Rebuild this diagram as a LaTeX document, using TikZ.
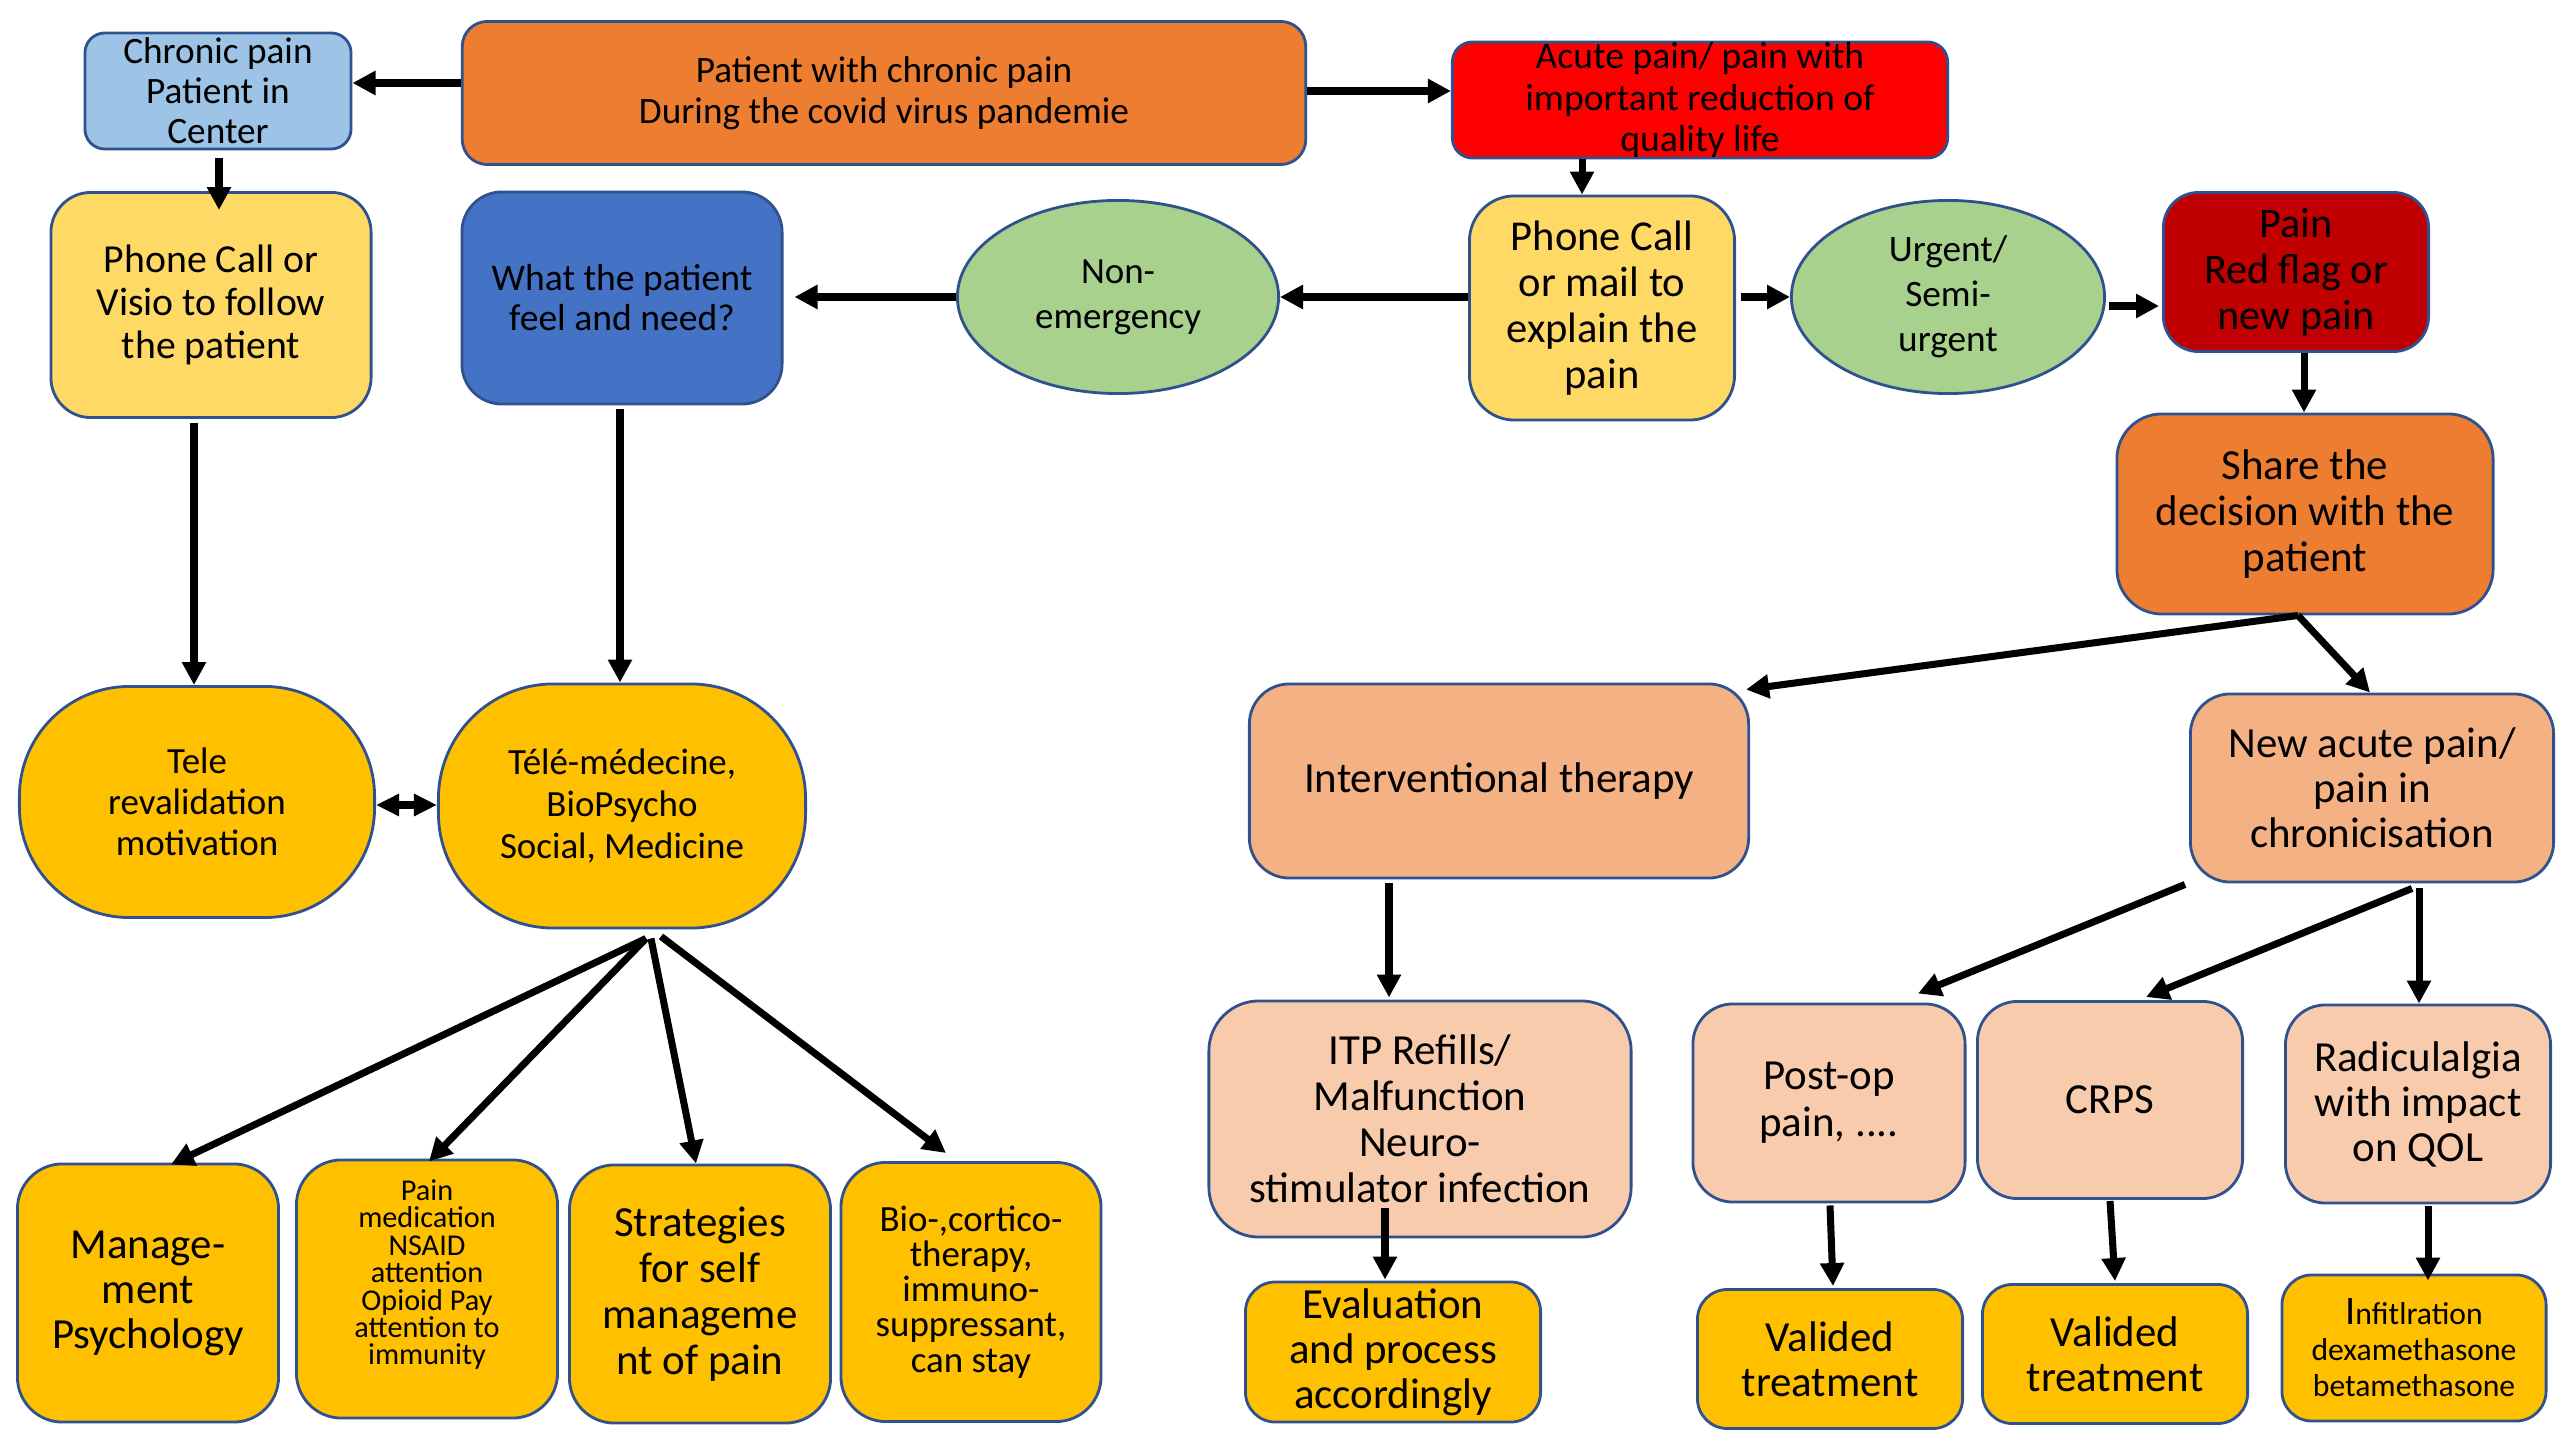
\documentclass[tikz,border=0pt]{standalone}
\usepackage{fontspec}
\setmainfont{Carlito}
\usetikzlibrary{arrows.meta,shapes.geometric,calc}
\definecolor{bordc}{HTML}{2F528F}
\definecolor{lblue}{HTML}{9DC3E6}
\definecolor{orng}{HTML}{ED7D31}
\definecolor{redA}{HTML}{FF0000}
\definecolor{yelL}{HTML}{FFD966}
\definecolor{grn}{HTML}{A9D18E}
\definecolor{dred}{HTML}{C00000}
\definecolor{blu}{HTML}{4472C4}
\definecolor{gold}{HTML}{FFC000}
\definecolor{lor}{HTML}{F4B183}
\definecolor{llor}{HTML}{F8CBAD}
\newcommand\fsz[2]{\fontsize{#1}{#2}\selectfont}
\begin{document}
\begin{tikzpicture}[x=0.01cm,y=-0.01cm,
  base/.style={draw=bordc,line width=0.8pt,align=center,inner sep=0pt,text=black},
  rbox/.style={base,rectangle},
  ell/.style={base,ellipse,fill=grn},
  arr/.style={line width=2pt,-{Triangle[length=0.23cm,width=0.23cm]}},
  darr/.style={line width=2pt,{Triangle[length=0.23cm,width=0.21cm]}-{Triangle[length=0.23cm,width=0.21cm]}}]
\useasboundingbox (0,0) rectangle (2560,1440);

% top row
\node[rbox,fill=lblue,rounded corners=0.2cm,inner ysep=-3pt,minimum width=2.66cm,minimum height=1.16cm,font={\fsz{10.6}{11.4}}] (chronic) at (218,91) {Chronic pain\\Patient in\\Center};
\node[rbox,fill=orng,rounded corners=0.25cm,minimum width=8.43cm,minimum height=1.43cm,font={\fsz{10.6}{11.6}}] (main) at (884,93) {Patient with chronic pain\\During the covid virus pandemie};
\node[rbox,fill=redA,rounded corners=0.2cm,inner ysep=-3pt,minimum width=4.95cm,minimum height=1.16cm,font={\fsz{10.7}{11.7}}] (acute) at (1700,100) {Acute pain/ pain with\\important reduction of\\quality life};

% second row
\node[rbox,fill=yelL,rounded corners=0.4cm,minimum width=3.2cm,minimum height=2.25cm,font={\fsz{11.3}{12.2}}] (visio) at (211,305) {Phone Call or\\Visio to follow\\the patient};
\node[rbox,fill=blu,rounded corners=0.4cm,minimum width=3.2cm,minimum height=2.12cm,font={\fsz{10.7}{11.4}}] (what) at (622,298) {What the patient\\feel and need?};
\node[ell,minimum width=3.21cm,minimum height=1.93cm,font={\fsz{10.5}{12.8}}] (nonem) at (1118,297) {Non-\\emergency};
\node[rbox,fill=yelL,rounded corners=0.45cm,minimum width=2.65cm,minimum height=2.24cm,font={\fsz{12.1}{13.1}}] (phone) at (1602,308) {Phone Call\\or mail to\\explain the\\pain};
\node[ell,minimum width=3.13cm,minimum height=1.93cm,font={\fsz{10.6}{12.8}}] (urgent) at (1948,297) {Urgent/\\Semi-\\urgent};
\node[rbox,fill=dred,rounded corners=0.35cm,minimum width=2.65cm,minimum height=1.59cm,font={\fsz{12}{13.1}}] (redflag) at (2296,272) {Pain\\Red flag or\\new pain};
\node[rbox,fill=orng,rounded corners=0.45cm,minimum width=3.76cm,minimum height=2.0cm,font={\fsz{12.2}{13.1}}] (share) at (2305,514) {Share the\\decision with the\\patient};

% middle row
\node[rbox,fill=gold,rounded corners=1.1cm,minimum width=3.55cm,minimum height=2.31cm,font={\fsz{10.5}{11.7}}] (tele) at (197,802) {Tele\\revalidation\\motivation};
\node[rbox,fill=gold,rounded corners=1.15cm,minimum width=3.67cm,minimum height=2.44cm,font={\fsz{10.5}{11.9}}] (telemed) at (622,806) {Télé-médecine,\\BioPsycho\\Social, Medicine};
\node[rbox,fill=lor,rounded corners=0.4cm,minimum width=4.99cm,minimum height=1.94cm,font={\fsz{12.2}{13.1}}] (interv) at (1499,781) {Interventional therapy};
\node[rbox,fill=lor,rounded corners=0.4cm,minimum width=3.63cm,minimum height=1.88cm,font={\fsz{12.2}{12.8}}] (newac) at (2372,788) {New acute pain/\\pain in\\chronicisation};

% lower left row
\node[rbox,fill=gold,rounded corners=0.45cm,minimum width=2.61cm,minimum height=2.58cm,font={\fsz{12.2}{12.8}}] (mgmt) at (148,1293) {Manage-\\ment\\Psychology};
\node[rbox,fill=gold,rounded corners=0.45cm,minimum width=2.61cm,minimum height=2.58cm,font={\fsz{8.6}{7.8}}] (painmed) at (427,1289) {Pain\\medication\\NSAID\\attention\\Opioid Pay\\attention to\\immunity\\[0.06cm]};
\node[rbox,fill=gold,rounded corners=0.45cm,minimum width=2.61cm,minimum height=2.58cm,font={\fsz{12.2}{13.1}}] (strat) at (700,1294) {Strategies\\for self\\manageme\\nt of pain};
\node[rbox,fill=gold,rounded corners=0.45cm,minimum width=2.6cm,minimum height=2.59cm,font={\fsz{10.5}{10}}] (bio) at (971,1292) {Bio-,cortico-\\therapy,\\immuno-\\suppressant,\\can stay};

% lower right rows
\node[rbox,fill=llor,rounded corners=0.5cm,minimum width=4.22cm,minimum height=2.36cm,font={\fsz{12.2}{13.1}}] (itp) at (1420,1119) {ITP Refills/\\Malfunction\\Neuro-\\stimulator infection};
\node[rbox,fill=llor,rounded corners=0.4cm,minimum width=2.72cm,minimum height=1.98cm,font={\fsz{12.2}{13.4}}] (postop) at (1829,1103) {Post-op\\pain, ....};
\node[rbox,fill=llor,rounded corners=0.4cm,minimum width=2.65cm,minimum height=1.97cm,font={\fsz{12.2}{13.1}}] (crps) at (2110,1100) {CRPS};
\node[rbox,fill=llor,rounded corners=0.4cm,minimum width=2.65cm,minimum height=1.98cm,font={\fsz{12.2}{12.8}}] (radic) at (2418,1104) {Radiculalgia\\with impact\\on QOL};

\node[rbox,fill=gold,rounded corners=0.3cm,minimum width=2.95cm,minimum height=1.40cm,font={\fsz{12.2}{12.8}}] (eval) at (1393,1352) {Evaluation\\and process\\accordingly};
\node[rbox,fill=gold,rounded corners=0.3cm,minimum width=2.65cm,minimum height=1.39cm,font={\fsz{12.2}{12.8}}] (val1) at (1830,1359) {Valided\\treatment};
\node[rbox,fill=gold,rounded corners=0.3cm,minimum width=2.65cm,minimum height=1.39cm,font={\fsz{12.2}{12.8}}] (val2) at (2115,1354) {Valided\\treatment};
\node[rbox,fill=gold,rounded corners=0.3cm,minimum width=2.64cm,minimum height=1.46cm,font={\fsz{9}{10.2}}] (infil) at (2414,1348) {{\fsz{11.5}{10.2}I}nfitlration\\dexamethasone\\betamethasone};

% connectors
\draw[arr] ($(main.west)+(0,-10)$) -- ($(chronic.east)+(0,-8)$);
\draw[arr] ($(main.east)+(0,-2)$) -- ($(acute.west)+(0,-9)$);
\draw[arr] ($(acute.south)+(-118,0)$) -- ($(phone.north)+(-20,0)$);
\draw[arr] ($(chronic.south)+(1,8)$) -- ($(visio.north)+(8,19)$);
\draw[arr] ($(phone.west)+(0,-11)$) -- (nonem.east);
\draw[arr] (nonem.west) -- ($(what.east)+(11,-1)$);
\draw[arr] ($(phone.east)+(5,-11)$) -- (urgent.west);
\draw[arr] ($(urgent.east)+(3,9)$) -- ($(redflag.west)+(-3,34)$);
\draw[arr] ($(redflag.south)+(8,0)$) -- ($(share.north)+(-1,0)$);
\draw[arr] ($(share.south)+(-7,0)$) -- ($(interv.north east)+(-4,7)$);
\draw[arr] ($(share.south)+(-7,0)$) -- ($(newac.north)+(-2,0)$);
\draw[arr] ($(visio.south)+(-17,4)$) -- ($(tele.north)+(-3,0)$);
\draw[arr] ($(what.south)+(-2,4)$) -- ($(telemed.north)+(-2,0)$);
\draw[darr] ($(tele.east)+(0,3)$) -- ($(telemed.west)+(0,-1)$);
\draw[arr] ($(telemed.south)+(24,9)$) -- ($(mgmt.north)+(23,2)$);
\draw[arr] ($(telemed.south)+(24,9)$) -- ($(painmed.north)+(2,3)$);
\draw[arr] ($(telemed.south)+(29,9)$) -- ($(strat.north)+(-4,0)$);
\draw[arr] ($(telemed.south)+(39,7)$) -- ($(bio.north)+(-25,-8)$);
\draw[arr] ($(interv.south)+(-110,4)$) -- ($(itp.north)+(-31,-2)$);
\draw[arr] ($(itp.south)+(-35,-30)$) -- ($(eval.north)+(-8,-1)$);
\draw[arr] ($(newac.south west)+(-4,1)$) -- ($(postop.north)+(89,-9)$);
\draw[arr] ($(newac.south)+(40,5)$) -- ($(crps.north)+(36,-3)$);
\draw[arr] ($(newac.south)+(47,5)$) -- ($(radic.north)+(1,0)$);
\draw[arr] ($(postop.south)+(1,2)$) -- ($(val1.north)+(3,-2)$);
\draw[arr] ($(crps.south)+(0,1)$) -- ($(val2.north)+(0,-2)$);
\draw[arr] ($(radic.south)+(10,2)$) -- ($(infil.north)+(14,7)$);
\end{tikzpicture}
\end{document}
